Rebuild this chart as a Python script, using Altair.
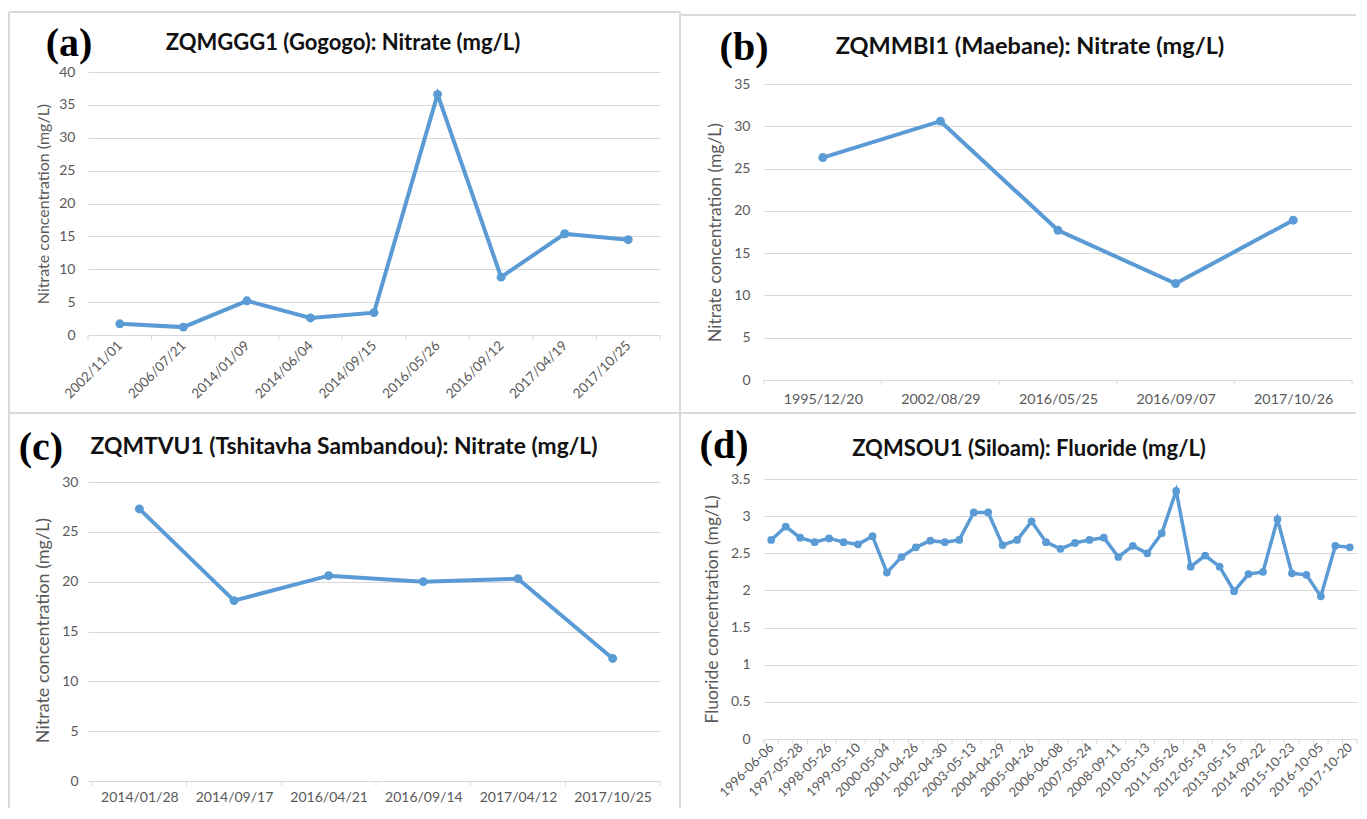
import json
import altair as alt
import pandas as pd

# ---------------- data ----------------
a_labels = ["2002/11/01", "2006/07/21", "2014/01/09", "2014/06/04", "2014/09/15",
            "2016/05/26", "2016/09/12", "2017/04/19", "2017/10/25"]
a_values = [1.7, 1.2, 5.2, 2.6, 3.4, 36.6, 8.8, 15.4, 14.5]

b_labels = ["1995/12/20", "2002/08/29", "2016/05/25", "2016/09/07", "2017/10/26"]
b_values = [26.3, 30.6, 17.7, 11.4, 18.9]

c_labels = ["2014/01/28", "2014/09/17", "2016/04/21", "2016/09/14", "2017/04/12", "2017/10/25"]
c_values = [27.3, 18.1, 20.6, 20.0, 20.3, 12.3]

# panel (d): 41 samples, every second one labelled on the axis
d_labels = ["1996-06-06", "1997-05-28", "1998-05-26", "1999-05-10", "2000-05-04",
            "2001-04-26", "2002-04-30", "2003-05-13", "2004-04-29", "2005-04-26",
            "2006-06-08", "2007-05-24", "2008-09-11", "2010-05-13", "2011-05-26",
            "2012-05-19", "2013-05-15", "2014-09-22", "2015-10-23", "2016-10-05",
            "2017-10-20"]
d_values = [2.68, 2.86, 2.71, 2.65, 2.70, 2.65, 2.62, 2.73, 2.24, 2.45,
            2.58, 2.67, 2.65, 2.68, 3.05, 3.05, 2.61, 2.68, 2.93, 2.65,
            2.56, 2.64, 2.68, 2.71, 2.45, 2.60, 2.50, 2.77, 3.34, 2.32,
            2.47, 2.32, 1.99, 2.22, 2.25, 2.96, 2.23, 2.21, 1.92, 2.60,
            2.58]

BLUE = "#5B9BD5"
GRID = "#D9D9D9"
TXT = "#595959"
FONT = "Lato"
SERIF = "Liberation Serif"


def text_layer(txt, x, y, font, size, weight, color):
    return alt.Chart(pd.DataFrame({"t": [txt]})).mark_text(
        font=font, fontSize=size, fontWeight=weight, color=color,
        align="center", baseline="alphabetic"
    ).encode(text="t:N", x=alt.value(x), y=alt.value(y))


def panel(labels, values, width, height, ydom_max, yticks, ytitle, title, tag,
          tag_xy, title_xy, title_size=22, ytitle_size=17, lab_size=14,
          every=1, angle=0, xmin=-0.5, yfmt="d",
          ylabpad=13, ytitlepad=8, titleY=None, xlabpad=8,
          line_w=4, pt_size=80):
    n = len(values)
    df = pd.DataFrame({"i": list(range(n)), "v": values})
    xs = alt.Scale(domain=[xmin, n - 0.5], nice=False, zero=False)
    ys = alt.Scale(domain=[0, ydom_max], nice=False, zero=True)
    arr = json.dumps(labels)
    xaxis_kw = dict(
        values=list(range(0, n, every)),
        labelExpr=f"{arr}[round(datum.value / {every})]",
        ticks=False, tickSize=0, grid=False, domain=True,
        domainColor=GRID, domainWidth=1, labelColor=TXT, labelFont=FONT,
        labelFontSize=lab_size, labelPadding=xlabpad, title=None,
        labelOverlap=False, labelFlush=False, labelAngle=angle,
    )
    if angle:
        xaxis_kw.update(labelAlign="right", labelBaseline="middle")
    xaxis = alt.Axis(**xaxis_kw)
    yaxis_kw = dict(
        values=yticks, format=yfmt, grid=True, gridColor=GRID, gridWidth=1,
        domain=False, ticks=False, tickSize=0, labelColor=TXT, labelFont=FONT,
        labelFontSize=14, labelPadding=ylabpad, title=ytitle, titleFont=FONT,
        titleFontSize=ytitle_size, titleFontWeight="normal", titleColor=TXT,
        titlePadding=ytitlepad,
    )
    if titleY is not None:
        yaxis_kw["titleY"] = titleY
    yaxis = alt.Axis(**yaxis_kw)

    X = alt.X("i:Q", scale=xs, axis=xaxis)
    Y = alt.Y("v:Q", scale=ys, axis=yaxis)
    base = alt.Chart(df)
    line = base.mark_line(color=BLUE, strokeWidth=line_w).encode(x=X, y=Y)
    pts = base.mark_circle(color=BLUE, size=pt_size, opacity=1).encode(x=X, y=Y)
    bnd = pd.DataFrame({"b": [k - 0.5 for k in range(n + 1)]})
    ticks = alt.Chart(bnd).mark_rule(color=GRID, strokeWidth=1).encode(
        x=alt.X("b:Q", scale=xs, axis=xaxis),
        y=alt.value(height), y2=alt.value(height + 5))
    tg = text_layer(tag, tag_xy[0], tag_xy[1], SERIF, 40, "bold", "black")
    tt = text_layer(title, title_xy[0], title_xy[1], FONT, title_size, "bold", "#111111")
    return [ticks, line, pts, tg, tt], width, height


def border(x1, y1, x2, y2):
    return alt.Chart(pd.DataFrame({"k": [0]})).mark_rule(
        color=GRID, strokeWidth=2
    ).encode(x=alt.value(x1), x2=alt.value(x2), y=alt.value(y1), y2=alt.value(y2))


# panel origins on the page: a (88,72), b (764,72), c (88,479), d (764,479)
OX, OY = 88, 72

la, wa, ha = panel(a_labels, a_values, 572, 263, 40, list(range(0, 41, 5)),
                   "Nitrate concentration (mg/L)", "ZQMGGG1 (Gogogo): Nitrate (mg/L)",
                   "(a)", (-19, -16), (255, -22), title_size=22, ytitle_size=16,
                   lab_size=13.5, angle=315, ylabpad=13, ytitlepad=7)
borders = [
    border(9 - OX, 12 - OY, 680 - OX, 12 - OY),
    border(9 - OX, 12 - OY, 9 - OX, 808 - OY),
    border(680 - OX, 12 - OY, 680 - OX, 808 - OY),
    border(9 - OX, 413 - OY, 1356 - OX, 413 - OY),
    border(680 - OX, 15 - OY, 1356 - OX, 15 - OY),
]
pa = alt.layer(*(borders + la)).properties(width=wa, height=ha)

lb, wb, hb = panel(b_labels, b_values, 588, 308, 35 * 308 / 296, list(range(0, 36, 5)),
                   "Nitrate concentration (mg/L)", "ZQMMBI1 (Maebane): Nitrate (mg/L)",
                   "(b)", (-20, -12), (266, -18), title_size=23.5, ytitle_size=17.5,
                   lab_size=14.3, ylabpad=14, ytitlepad=9, titleY=160, xlabpad=12)
pb = alt.layer(*lb).properties(width=wb, height=hb)

lc, wc, hc = panel(c_labels, c_values, 572, 302, 30 * 302 / 299, list(range(0, 31, 5)),
                   "Nitrate concentration (mg/L)",
                   "ZQMTVU1 (Tshitavha Sambandou): Nitrate (mg/L)",
                   "(c)", (-47, -19), (256, -25), title_size=22.8, ytitle_size=18,
                   lab_size=14, xmin=-0.5 - 4 / 94.6,
                   ylabpad=10, ytitlepad=9, xlabpad=9)
pc = alt.layer(*lc).properties(width=wc, height=hc)

ld, wd, hd = panel(d_labels, d_values, 593, 260, 3.5, [0, 0.5, 1, 1.5, 2, 2.5, 3, 3.5],
                   "Fluoride concentration (mg/L)", "ZQMSOU1 (Siloam): Fluoride (mg/L)",
                   "(d)", (-40, -21), (265, -23), title_size=22, ytitle_size=17.5,
                   lab_size=13, every=2, angle=315, yfmt=".1~f",
                   ylabpad=14, ytitlepad=9, xlabpad=6, line_w=3.5, pt_size=60)
pd_ = alt.layer(*ld).properties(width=wd, height=hd)

chart = alt.concat(
    pa, pb, pc, pd_, columns=2, spacing={"row": 99, "column": 104},
    bounds="flush", align="each"
).properties(
    padding={"left": 0, "top": 3, "right": 0, "bottom": 0},
    background="white",
).configure_view(stroke=None)

chart.save("out.html", embed_options={"renderer": "svg", "actions": False})
